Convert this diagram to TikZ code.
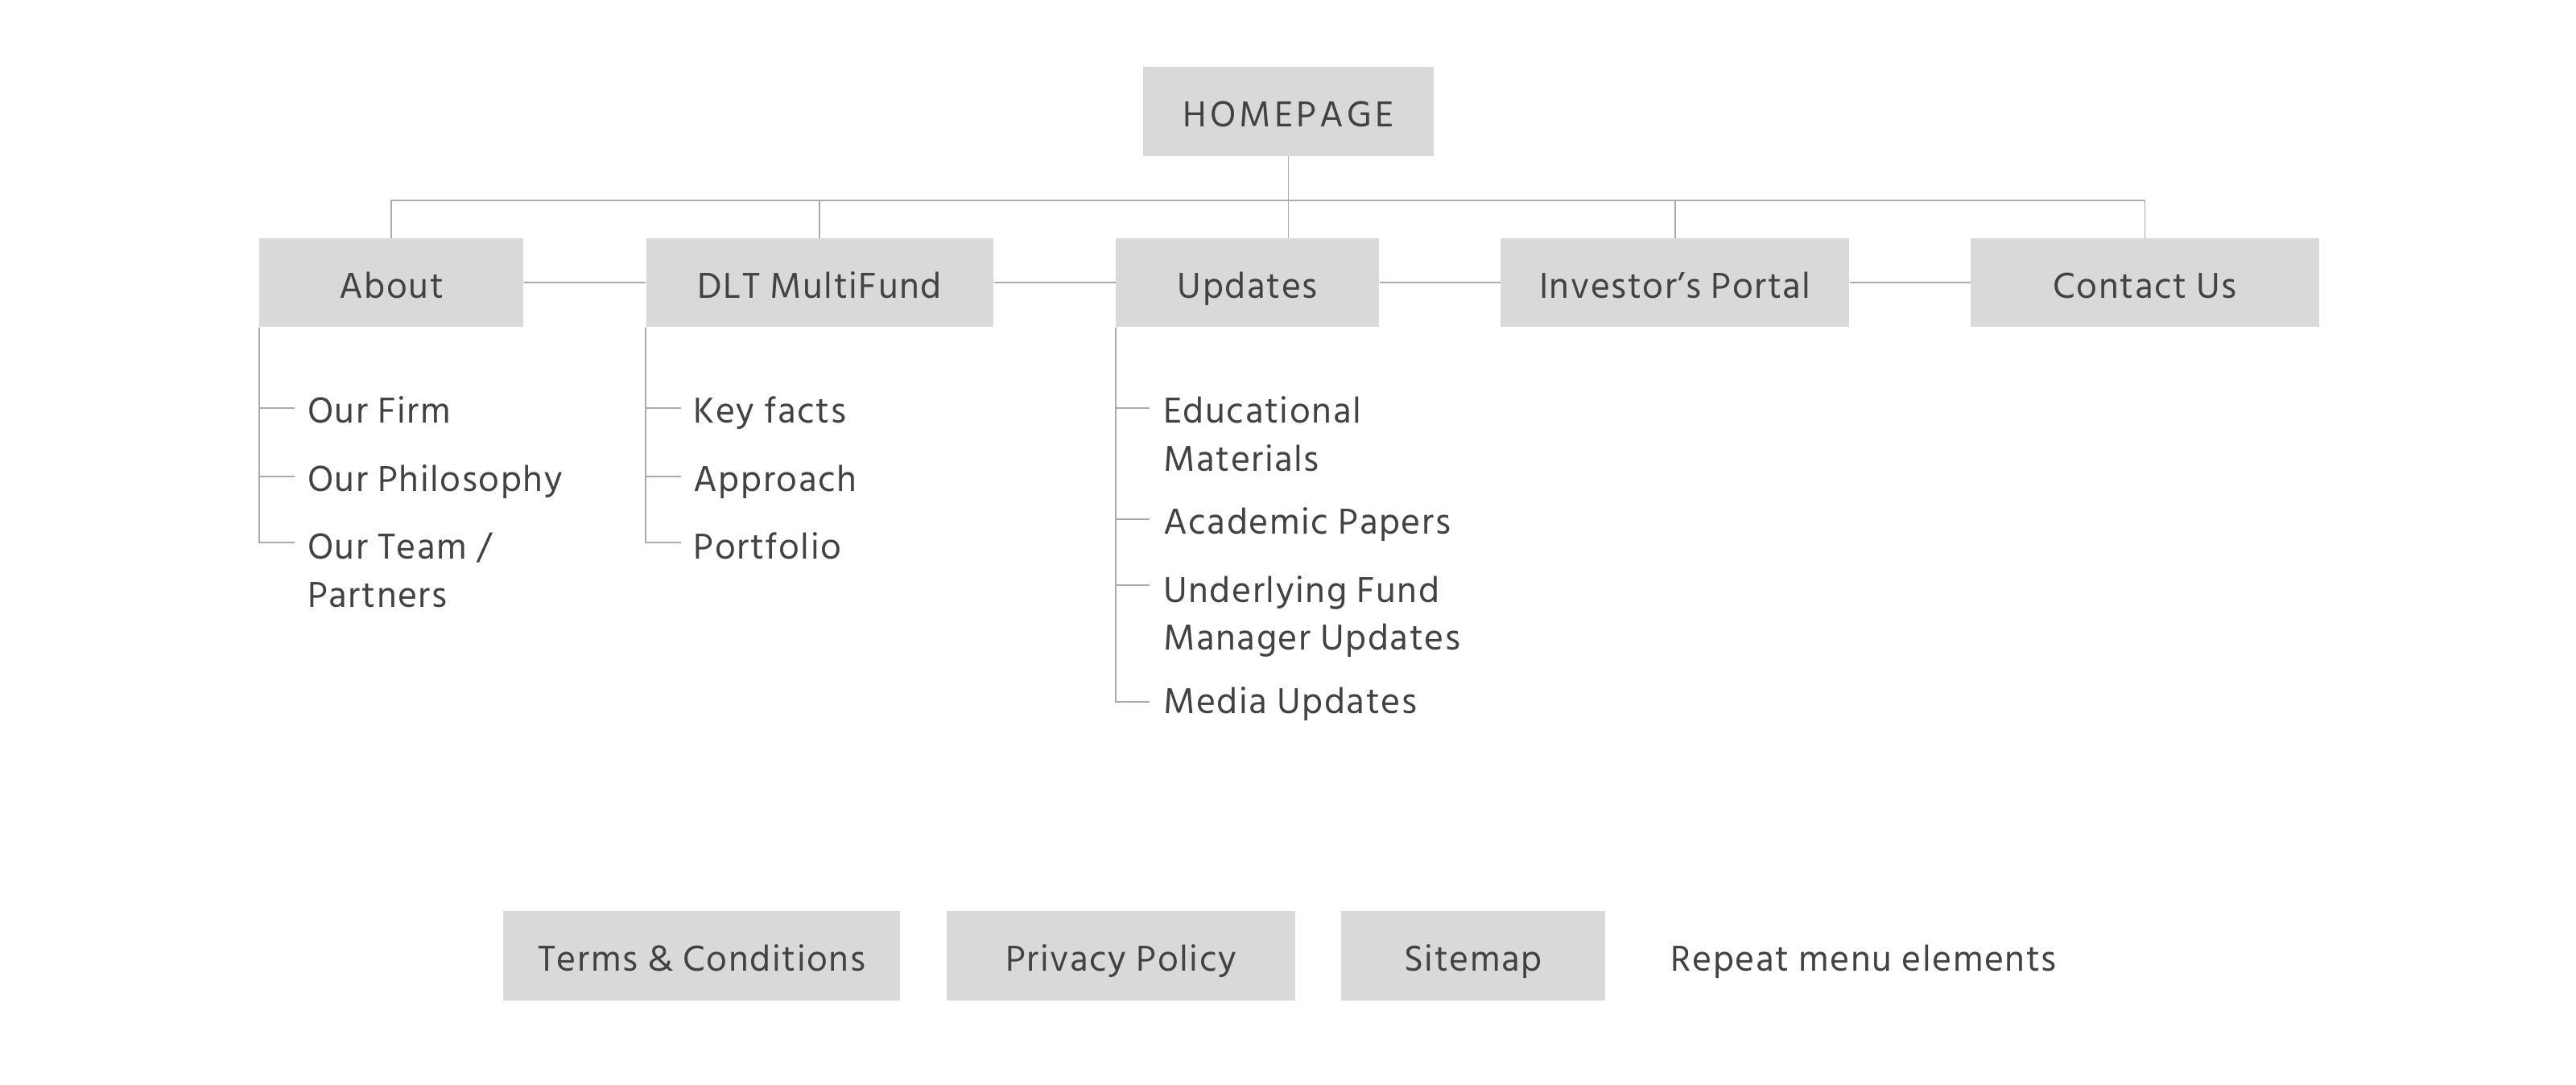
\documentclass[tikz,border=0pt]{standalone}
\usepackage{fontspec}
\setmainfont[LetterSpace=3.5]{Hind Siliguri}
\newfontfamily\capsfont[LetterSpace=9]{Hind Siliguri}
\definecolor{boxgrey}{HTML}{D9D9D9}
\definecolor{txtgrey}{HTML}{424242}
\definecolor{linegrey}{HTML}{ABABAB}
\tikzset{
  box/.style={fill=boxgrey, minimum height=54, inner sep=0, text=txtgrey,
    text height=18.4, text depth=0},
  subitem/.style={anchor=base west, inner sep=0, text=txtgrey},
  conn/.style={draw=linegrey, line width=0.9pt},
}
\newcommand{\twolines}[2]{\vtop{\hbox{#1}\hbox{#2}}}
\begin{document}
\begin{tikzpicture}[x=1pt,y=-1pt, font=\fontsize{22.5}{29.2}\selectfont]
\useasboundingbox (0,0) rectangle (1568,660.5);
% top
\node[box, minimum width=177] (home) at (784.2,67.9) {\capsfont HOMEPAGE};
% level 1
\node[box, minimum width=160.7] (about) at (238.2,172.1) {About};
\node[box, minimum width=211.5] (dlt) at (499,172.1) {DLT MultiFund};
\node[box, minimum width=160.4] (upd) at (759.4,172.1) {Updates};
\node[box, minimum width=212.2] (inv) at (1019.6,172.1) {Investor’s Portal};
\node[box, minimum width=212] (con) at (1305.6,172.1) {Contact Us};
% bus
\coordinate (bus) at (784.2,122);
\draw[conn] (home.south) -- (upd.north -| home.south);
\draw[conn] (about.north) -- (about.north |- bus) -| (con.north);
\draw[conn] (dlt.north) -- (dlt.north |- bus);
\draw[conn] (inv.north) -- (inv.north |- bus);
% horizontal links
\draw[conn] (about.east) -- (dlt.west);
\draw[conn] (dlt.east) -- (upd.west);
\draw[conn] (upd.east) -- (inv.west);
\draw[conn] (inv.east) -- (con.west);
% About sub-items
\node[subitem] (a1) at (187,257.7) {Our Firm};
\node[subitem] (a2) at (187,299.2) {Our Philosophy};
\node[subitem] (a3) at (187,340.5) {\twolines{Our Team /}{Partners}};
\coordinate (at1) at (179.4,248.3);
\coordinate (at2) at (179.4,289.9);
\coordinate (at3) at (179.4,330.3);
\draw[conn] (about.south west) |- (at3);
\draw[conn] (about.south west |- at1) -- (at1);
\draw[conn] (about.south west |- at2) -- (at2);
% DLT sub-items
\node[subitem] (d1) at (421.9,257.7) {Key facts};
\node[subitem] (d2) at (421.9,299.2) {Approach};
\node[subitem] (d3) at (421.9,340.5) {Portfolio};
\coordinate (dt1) at (414.5,248.3);
\coordinate (dt2) at (414.5,289.9);
\coordinate (dt3) at (414.5,330.3);
\draw[conn] (dlt.south west) |- (dt3);
\draw[conn] (dlt.south west |- dt1) -- (dt1);
\draw[conn] (dlt.south west |- dt2) -- (dt2);
% Updates sub-items
\node[subitem] (u1) at (708,257.7) {\twolines{Educational}{Materials}};
\node[subitem] (u2) at (708,325.3) {Academic Papers};
\node[subitem] (u3) at (708,366.7) {\twolines{Underlying Fund}{Manager Updates}};
\node[subitem] (u4) at (708,434.5) {Media Updates};
\coordinate (ut1) at (699.5,248.3);
\coordinate (ut2) at (699.5,316);
\coordinate (ut3) at (699.5,356.4);
\coordinate (ut4) at (699.5,427.1);
\draw[conn] (upd.south west) |- (ut4);
\draw[conn] (upd.south west |- ut1) -- (ut1);
\draw[conn] (upd.south west |- ut2) -- (ut2);
\draw[conn] (upd.south west |- ut3) -- (ut3);
% footer
\node[box, minimum width=241.3] (terms) at (427.1,581.9) {Terms \& Conditions};
\node[box, minimum width=211.9] (priv) at (682.4,581.9) {Privacy Policy};
\node[box, minimum width=160.5] (site) at (896.7,581.9) {Sitemap};
\node[subitem] (rep) at (1017,591) {Repeat menu elements};
\end{tikzpicture}
\end{document}
